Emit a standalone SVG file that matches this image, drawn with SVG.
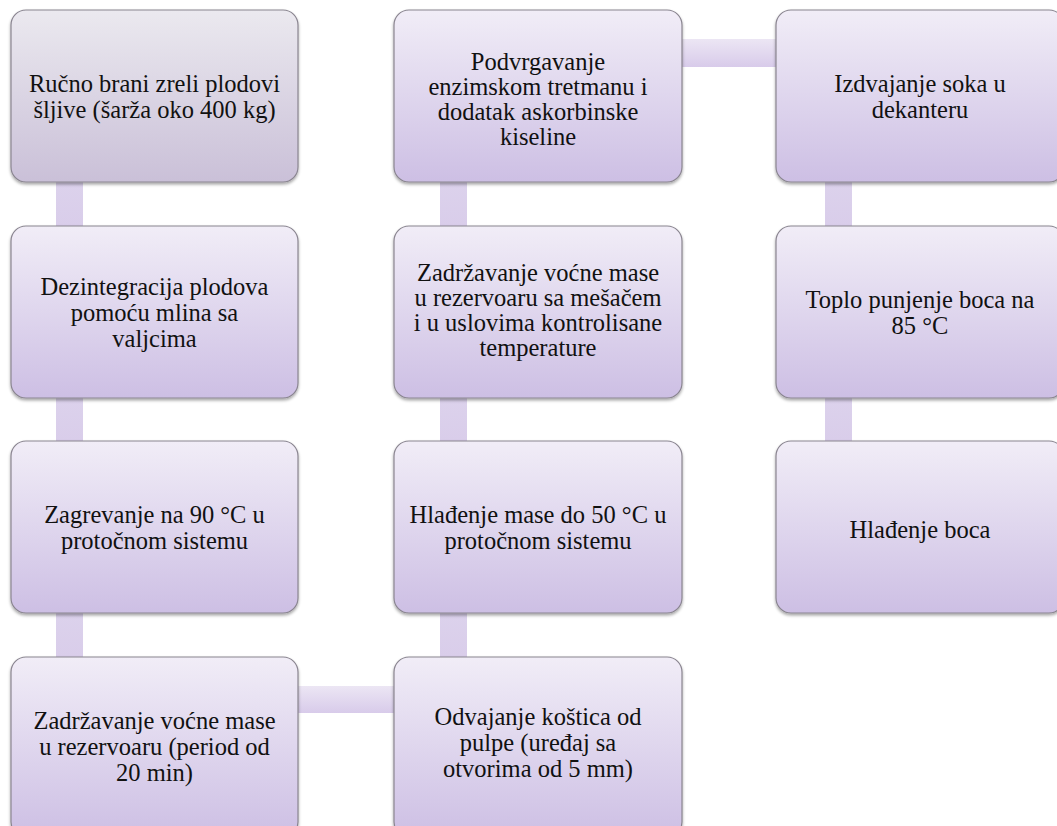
<svg xmlns="http://www.w3.org/2000/svg" width="1057" height="826" viewBox="0 0 1057 826">
<style>
.box{fill:url(#gBox);stroke:#8a8590;stroke-width:1.2;filter:url(#sh)}
.box0{fill:url(#gBox0)}
.con{fill:url(#gCon)}
.conh{fill:url(#gConH)}
text{font-family:"Liberation Serif","DejaVu Serif",serif;font-size:24.5px;fill:#111;text-anchor:middle}
</style>
<defs>
<linearGradient id="gBox" x1="0" y1="0" x2="0" y2="1"><stop offset="0" stop-color="#f1edf7"/><stop offset="1" stop-color="#cdbfe4"/></linearGradient>
<linearGradient id="gBox0" x1="0" y1="0" x2="0" y2="1"><stop offset="0" stop-color="#ebe9ef"/><stop offset="1" stop-color="#cac0d8"/></linearGradient>
<linearGradient id="gCon" x1="0" y1="0" x2="0" y2="1"><stop offset="0" stop-color="#dcd2ec"/><stop offset="1" stop-color="#d9cdea"/></linearGradient>
<linearGradient id="gConH" x1="0" y1="0" x2="0" y2="1"><stop offset="0" stop-color="#ece6f4"/><stop offset="1" stop-color="#d8cbea"/></linearGradient>
<filter id="sh" x="-5%" y="-5%" width="110%" height="115%"><feDropShadow dx="0" dy="2" stdDeviation="1.5" flood-color="#000" flood-opacity="0.35"/></filter>
</defs>
<g id="connectors">
<rect class="con" x="56" y="182" width="27" height="44"/>
<rect class="con" x="56" y="398" width="27" height="43"/>
<rect class="con" x="56" y="613" width="27" height="44"/>
<rect class="conh" x="298" y="686" width="96" height="27"/>
<rect class="con" x="440" y="613" width="27" height="44"/>
<rect class="con" x="440" y="398" width="27" height="43"/>
<rect class="con" x="440" y="182" width="27" height="44"/>
<rect class="conh" x="682" y="39" width="94" height="28"/>
<rect class="con" x="825" y="182" width="27" height="44"/>
<rect class="con" x="825" y="398" width="27" height="43"/>
</g>
<g id="n1"><rect class="box box0" x="11" y="10" width="287" height="172" rx="15"/><text x="154.5" y="92">Ručno brani zreli plodovi</text><text x="154.5" y="118">šljive (šarža oko 400 kg)</text></g>
<g id="n2"><rect class="box" x="11" y="226" width="287" height="172" rx="15"/><text x="154.5" y="295">Dezintegracija plodova</text><text x="154.5" y="321">pomoću mlina sa</text><text x="154.5" y="347">valjcima</text></g>
<g id="n3"><rect class="box" x="11" y="441" width="287" height="172" rx="15"/><text x="154.5" y="523">Zagrevanje na 90 °C u</text><text x="154.5" y="549">protočnom sistemu</text></g>
<g id="n4"><rect class="box" x="11" y="657" width="287" height="180" rx="15"/><text x="154.5" y="729">Zadržavanje voćne mase</text><text x="154.5" y="755">u rezervoaru (period od</text><text x="154.5" y="781">20 min)</text></g>
<g id="n5"><rect class="box" x="394" y="657" width="288" height="180" rx="15"/><text x="538" y="725">Odvajanje koštica od</text><text x="538" y="751">pulpe (uređaj sa</text><text x="538" y="777">otvorima od 5 mm)</text></g>
<g id="n6"><rect class="box" x="394" y="441" width="288" height="172" rx="15"/><text x="538" y="523">Hlađenje mase do 50 °C u</text><text x="538" y="549">protočnom sistemu</text></g>
<g id="n7"><rect class="box" x="394" y="226" width="288" height="172" rx="15"/><text x="538" y="281">Zadržavanje voćne mase</text><text x="538" y="306">u rezervoaru sa mešačem</text><text x="538" y="331">i u uslovima kontrolisane</text><text x="538" y="356">temperature</text></g>
<g id="n8"><rect class="box" x="394" y="10" width="288" height="172" rx="15"/><text x="538" y="70">Podvrgavanje</text><text x="538" y="95">enzimskom tretmanu i</text><text x="538" y="120">dodatak askorbinske</text><text x="538" y="145">kiseline</text></g>
<g id="n9"><rect class="box" x="776" y="10" width="288" height="172" rx="15"/><text x="920" y="92">Izdvajanje soka u</text><text x="920" y="118">dekanteru</text></g>
<g id="n10"><rect class="box" x="776" y="226" width="288" height="172" rx="15"/><text x="920" y="308">Toplo punjenje boca na</text><text x="920" y="334">85 °C</text></g>
<g id="n11"><rect class="box" x="776" y="441" width="288" height="172" rx="15"/><text x="920" y="538">Hlađenje boca</text></g>
</svg>
